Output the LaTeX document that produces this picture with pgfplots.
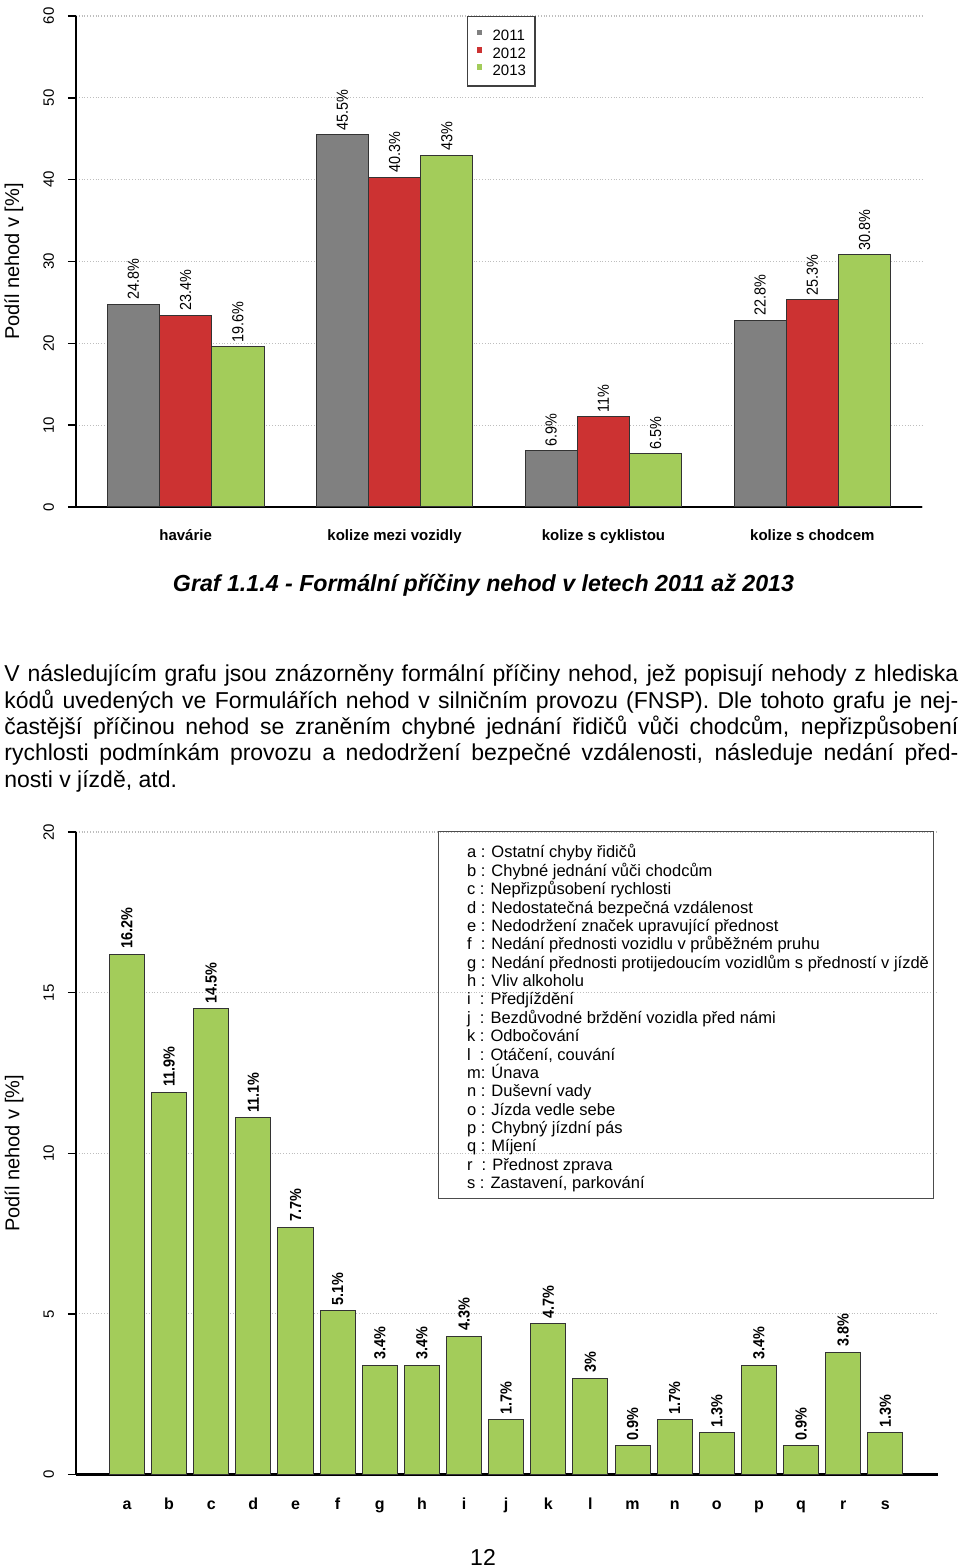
\documentclass[border=0pt]{standalone}
\usepackage{fontspec}
\setmainfont{Liberation Sans}
\usepackage{pgfplots}
\pgfplotsset{compat=1.18}
\definecolor{cgray}{RGB}{128,128,128}
\definecolor{cred}{RGB}{204,50,50}
\definecolor{cgreen}{RGB}{163,204,90}
\definecolor{cgrid}{RGB}{190,190,190}
\pgfplotsset{
  rchart/.style={
    scale only axis,
    axis lines=left, axis line style={-},
    x axis line style={line width=1.3pt},
    y axis line style={line width=0.9pt},
    xtick style={draw=none},
    ytick style={line width=0.7pt, black},
    tick align=outside, major tick length=4pt,
    ymajorgrids, grid style={densely dotted, cgrid, line width=0.6pt},
    /pgf/number format/assume math mode=true,
    yticklabel style={font=\fontsize{7.5}{8}\selectfont, rotate=90, anchor=south, inner sep=0pt},
    yticklabel shift=4.5pt,
    xticklabel style={anchor=base, inner sep=0pt},
    typeset ticklabels with strut,
  },
}
\begin{document}
\begin{tikzpicture}
\path[use as bounding box] (0,0) rectangle (480pt,784pt);

% ---------- top chart ----------
\begin{axis}[rchart,
  at={(38pt,530.5pt)}, anchor=south west,
  width=423pt, height=245.5pt,
  xmin=0.4, xmax=16.6, ymin=0, ymax=60,
  ytick={0,10,...,60},
  xtick={2.5,6.5,10.5,14.5},
  xticklabels={havárie, kolize mezi vozidly, kolize s cyklistou, kolize s chodcem},
  xticklabel style={font=\bfseries\fontsize{7.5}{8}\selectfont, yshift=-13pt},
  ylabel={Podíl nehod v [\%]},
  every axis y label/.style={at={(axis description cs:-0.0735,0.5)}, rotate=90, anchor=center, font=\fontsize{10}{12}\selectfont},
  legend style={at={(0.4621,1)}, anchor=north west, draw=black!75, line width=0.6pt,
    font=\fontsize{7.5}{8}\selectfont, nodes={inner sep=0pt, text height=5.5pt, text depth=0pt},
    row sep=1.75pt, inner xsep=4.5pt, inner ysep=5.25pt,
    /tikz/every odd column/.append style={column sep=5.3pt}},
  legend cell align=left,
  legend image code/.code={\path[draw=none,fill=none] (0pt,0pt) rectangle (2.75pt,4.15pt); \fill[#1,draw=none] (0pt,0pt) rectangle (2.75pt,2.75pt);},
  nodes near coords={\scalebox{0.9}[1]{\pgfmathprintnumber{\pgfplotspointmeta}\%}},
  nodes near coords align={anchor=west},
  every node near coord/.append style={rotate=90, anchor=west, inner sep=2pt, font=\fontsize{8}{9}\selectfont, black},
]
\addplot[ybar, bar width=1, bar shift=0pt, fill=cgray, draw=black!80, line width=0.5pt]
  coordinates {(1.5,24.8) (5.5,45.5) (9.5,6.9) (13.5,22.8)};
\addlegendentry{2011}
\addplot[ybar, bar width=1, bar shift=0pt, fill=cred, draw=black!80, line width=0.5pt]
  coordinates {(2.5,23.4) (6.5,40.3) (10.5,11) (14.5,25.3)};
\addlegendentry{2012}
\addplot[ybar, bar width=1, bar shift=0pt, fill=cgreen, draw=black!80, line width=0.5pt]
  coordinates {(3.5,19.6) (7.5,43) (11.5,6.5) (15.5,30.8)};
\addlegendentry{2013}
\end{axis}

% ---------- caption & paragraph ----------
\node[anchor=base, inner sep=0pt, font=\bfseries\itshape\fontsize{11.6}{14}\selectfont]
  at (241.75pt,488pt) {Graf 1.1.4 - Formální příčiny nehod v letech 2011 až 2013};

\begin{scope}[every node/.style={anchor=base west, inner sep=0pt, font=\fontsize{11.5}{13}\selectfont}]
\node at (2pt,443pt) {\makebox[477pt][s]{V následujícím grafu jsou znázorněny formální příčiny nehod, jež popisují nehody z hlediska}};
\node at (2pt,429.85pt) {\makebox[477pt][s]{kódů uvedených ve Formulářích nehod v silničním provozu (FNSP). Dle tohoto grafu je nej-}};
\node at (2pt,416.7pt) {\makebox[477pt][s]{častější příčinou nehod se zraněním chybné jednání řidičů vůči chodcům, nepřizpůsobení}};
\node at (2pt,403.55pt) {\makebox[477pt][s]{rychlosti podmínkám provozu a nedodržení bezpečné vzdálenosti, následuje nedání před-}};
\node at (2pt,390.4pt) {nosti v jízdě, atd.};
\end{scope}

% ---------- bottom chart ----------
\begin{axis}[rchart,
  at={(38pt,46.75pt)}, anchor=south west,
  width=431pt, height=321.2pt,
  xmin=-1.21, xmax=19.25, ymin=0, ymax=20,
  ytick={0,5,...,20},
  xtick={0,...,18},
  xticklabels={a,b,c,d,e,f,g,h,i,j,k,l,m,n,o,p,q,r,s},
  xticklabel style={font=\bfseries\fontsize{8}{9}\selectfont, yshift=-13.5pt},
  ylabel={Podíl nehod v [\%]},
  every axis y label/.style={at={(axis description cs:-0.0719,0.5)}, rotate=90, anchor=center, font=\fontsize{10}{12}\selectfont},
  nodes near coords={\scalebox{0.9}[1]{\pgfmathprintnumber{\pgfplotspointmeta}\%}},
  nodes near coords align={anchor=west},
  every node near coord/.append style={rotate=90, anchor=west, inner sep=2.5pt, font=\bfseries\fontsize{8}{9}\selectfont, black},
]
\addplot[ybar, bar width=0.833, bar shift=0pt, fill=cgreen, draw=black!80, line width=0.5pt]
  table {
x y
0 16.2
1 11.9
2 14.5
3 11.1
4 7.7
5 5.1
6 3.4
7 3.4
8 4.3
9 1.7
10 4.7
11 3
12 0.9
13 1.7
14 1.3
15 3.4
16 0.9
17 3.8
18 1.3
};
\end{axis}

% ---------- key box of the bottom chart ----------
\draw[black!70, line width=0.6pt] (219.25pt,184.85pt) rectangle (466.65pt,368.15pt);
\foreach \t [count=\i] in {
  {a : Ostatní chyby řidičů},
  {b : Chybné jednání vůči chodcům},
  {c : Nepřizpůsobení rychlosti},
  {d : Nedostatečná bezpečná vzdálenost},
  {e : Nedodržení značek upravující přednost},
  {f\ \ : Nedání přednosti vozidlu v průběžném pruhu},
  {g : Nedání přednosti protijedoucím vozidlům s předností v jízdě},
  {h : Vliv alkoholu},
  {i\ \ : Předjíždění},
  {j\ \ : Bezdůvodné brždění vozidla před námi},
  {k : Odbočování},
  {l\ \ : Otáčení, couvání},
  {m: Únava},
  {n : Duševní vady},
  {o : Jízda vedle sebe},
  {p : Chybný jízdní pás},
  {q : Míjení},
  {r\ \ : Přednost zprava},
  {s : Zastavení, parkování}}
{
  \node[anchor=base west, inner sep=0pt, font=\fontsize{8.25}{9}\selectfont]
    at (233.3pt, {355pt-(\i-1)*9.185pt}) {\t};
}

% ---------- page number ----------
\node[anchor=base, inner sep=0pt, font=\fontsize{11.5}{12}\selectfont] at (241.5pt,1.5pt) {12};
\end{tikzpicture}
\end{document}
